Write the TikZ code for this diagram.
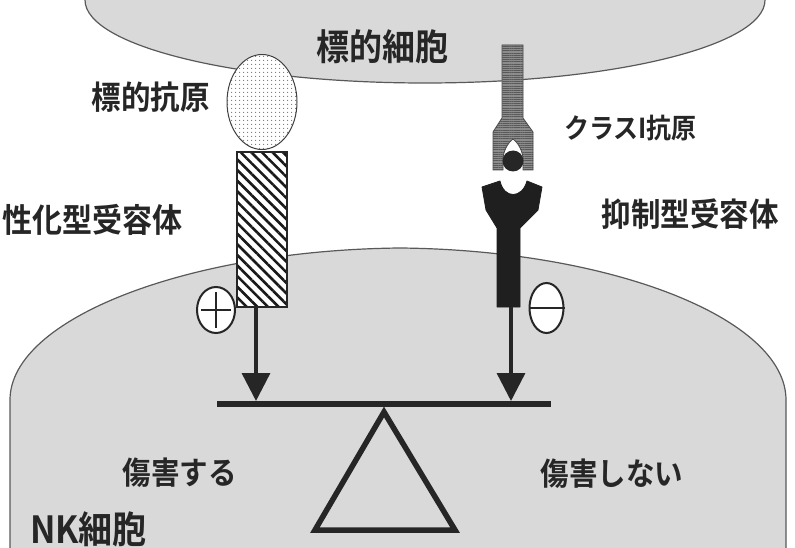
\documentclass[tikz,border=0pt]{standalone}
\usepackage{fontspec}
\newfontfamily\jp{Noto Sans CJK JP}[BoldFont={Noto Sans CJK JP Bold}]
\usetikzlibrary{shapes.geometric,patterns.meta,arrows.meta}

% slightly tall lettering
\newcommand{\tallset}[1]{\scalebox{1}[1.1]{#1}}

\begin{document}
\begin{tikzpicture}[x=1pt,y=-1pt,
  lab/.style={font=\jp\bfseries\fontsize{#1}{#1}\selectfont, text=black!85, inner sep=0pt},
  lab/.default=28,
  cellfill/.style={fill=black!15, draw=black!65, line width=1.2pt},
  sig/.style={line width=3.4pt, draw=black!85, shorten >=3pt,
    -{Triangle[length=28pt,width=28pt]}},
  beamline/.style={line width=6pt, draw=black!85},
  fulcrum/.style={line width=5.5pt, draw=black!85, line join=miter},
  sign/.style={draw=black!85, fill=white, line width=2pt, ellipse, inner sep=0pt},
  antigen/.style={ellipse, draw=black!75, line width=1pt,
    preaction={fill=white},
    pattern={Dots[distance=4pt, radius=0.7pt]}, pattern color=black!55,
    minimum width=70pt, minimum height=95pt},
  actrec/.style={rectangle, draw=black!85, line width=1.2pt,
    preaction={fill=white},
    pattern={Lines[angle=-45, distance=7.5pt, line width=2.6pt]},
    pattern color=black!90, minimum width=50pt, minimum height=155pt},
  mhc/.style={draw=black!70, line width=0.8pt, preaction={fill=black!45},
    pattern={Lines[angle=0, distance=2.2pt, line width=0.7pt]},
    pattern color=black!65},
  inhrec/.style={fill=black!88, draw=black!88, line width=0.8pt, line join=round}
]

\useasboundingbox (0,0) rectangle (795,548);
\clip (0,0) rectangle (795,548);

% target cell, cut by the top edge
\draw[cellfill] (425,0) ellipse [x radius=340, y radius=83];

% NK cell, cut by the bottom edge
\draw[cellfill] (10,570) -- (10,400)
  .. controls (10,318) and (190,250) .. (400,248)
  .. controls (610,250) and (786,318) .. (786,400) -- (786,570);

% activating side: target antigen and receptor
\node[antigen] (tag) at (262,102) {};
\node[actrec] (act) at (262,229.5) {};
\coordinate (actfoot) at (256,307);

% inhibitory side: class I antigen with bound peptide
\draw[mhc] (502,45) -- (523,45) -- (523,118) -- (533,132) -- (533,170)
  -- (523,170) -- (523,158) .. controls (522,148) and (516,141) .. (513,139)
  .. controls (510,141) and (504,148) .. (503,158) -- (503,170)
  -- (493,170) -- (493,132) -- (502,118) -- cycle;
\fill[black!85] (513,161) circle [radius=10.5];

% inhibitory receptor
\draw[inhrec] (482,187) -- (500,181)
  .. controls (504,199) and (522,199) .. (527,181)
  -- (542,187) -- (538,210) -- (520,228) -- (520,307)
  -- (497,307) -- (497,228) -- (486,210) -- cycle;
\coordinate (inhfoot) at (511,307);

% signs
\node[sign, minimum width=38pt, minimum height=46pt] (plus) at (216,310) {};
\draw[line width=2pt, black!85] ([xshift=5pt]plus.west) -- ([xshift=-5pt]plus.east)
  ([yshift=-6pt]plus.north) -- ([yshift=6pt]plus.south);
\node[sign, minimum width=34pt, minimum height=50pt] (minus) at (546.5,308) {};
\draw[line width=2pt, black!85] (minus.west) -- (minus.east);

% balance
\coordinate (beamL) at (217,404);
\coordinate (beamR) at (551,404);
\draw[beamline] (beamL) -- (beamR);
\coordinate (apex) at (384,412);
\draw[fulcrum] (apex) -- (455,530) -- (315,530) -- cycle;

% signals
\draw[sig] (actfoot) -- (actfoot |- beamL);
\draw[sig] (inhfoot) -- (inhfoot |- beamL);

% labels
\node[lab=33] (tcell) at (382,47) {\tallset{標的細胞}};
\node[lab=29.5] (ltag) at (150.5,97.5) {\tallset{標的抗原}};
\node[lab=25, anchor=west] (lmhc) at (564,128) {\tallset{クラスI抗原}};
\node[lab=30, anchor=west] (lact) at (2,219.5) {\tallset{性化型受容体}};
\node[lab=29.5] (linh) at (690,214) {\tallset{抑制型受容体}};
\node[lab=28.5] (lkill) at (179.5,472.5) {\tallset{傷害する}};
\node[lab=28.5] (lnokill) at (612,474) {\tallset{傷害しない}};
\node[lab=34, anchor=west] (lnk) at (30,529) {\tallset{NK細胞}};

\end{tikzpicture}
\end{document}
